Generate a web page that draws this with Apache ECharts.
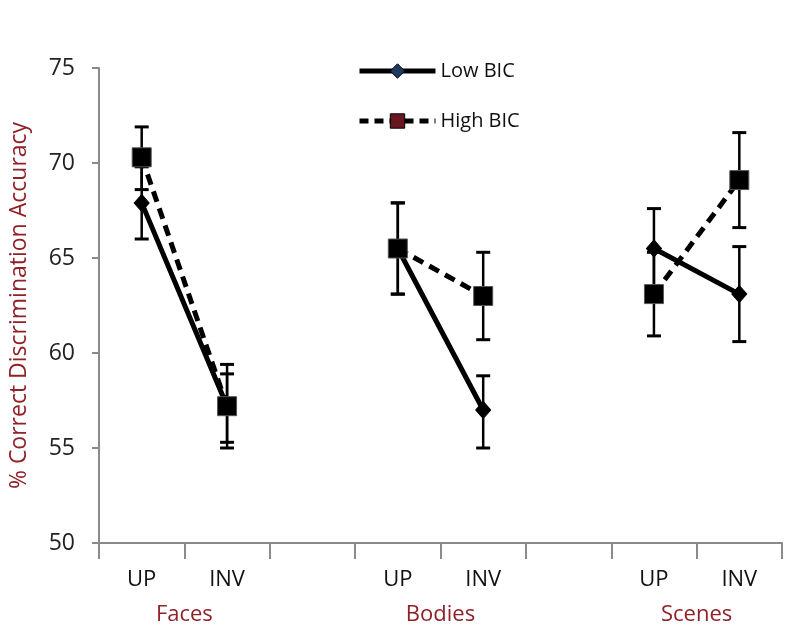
<!DOCTYPE html>
<html>
<head>
<meta charset="utf-8">
<script src="https://cdn.jsdelivr.net/npm/echarts@6/dist/echarts.min.js"></script>
<style>html,body{margin:0;padding:0;background:#fff}#c{width:808px;height:633px}</style>
</head>
<body>
<div id="c"></div>
<script>
const categories = ['UP', 'INV', '', 'UP', 'INV', '', 'UP', 'INV'];
const groupLabels = ['Faces', 'Bodies', 'Scenes'];
const groupPositions = [1, 4, 7];
const yTicks = [50, 55, 60, 65, 70, 75];

const lowBIC   = [67.9, 57.2, null, 65.5, 57.0, null, 65.5, 63.1];
const lowBICHi = [69.8, 59.4, null, 67.9, 58.8, null, 67.6, 65.6];
const lowBICLo = [66.0, 55.0, null, 63.1, 55.0, null, 63.4, 60.6];

const highBIC   = [70.3, 57.2, null, 65.5, 63.0, null, 63.1, 69.1];
const highBICHi = [71.9, 58.9, null, 67.9, 65.3, null, 65.3, 71.6];
const highBICLo = [68.6, 55.3, null, 63.1, 60.7, null, 60.9, 66.6];

const FONT = 'Open Sans';
const RED = '#8f2127';

function errData(vals, lo, hi) {
  const out = [];
  vals.forEach((v, i) => { if (v !== null) out.push([i, lo[i], hi[i]]); });
  return out;
}
function renderErr(params, api) {
  const x = api.value(0);
  const top = api.coord([x, api.value(2)]);
  const bot = api.coord([x, api.value(1)]);
  const w = 7;
  return {
    type: 'group',
    children: [
      { type: 'line', shape: { x1: top[0], y1: top[1], x2: bot[0], y2: bot[1] }, style: { stroke: '#000', lineWidth: 2.5 } },
      { type: 'line', shape: { x1: top[0] - w, y1: top[1], x2: top[0] + w, y2: top[1] }, style: { stroke: '#000', lineWidth: 3 } },
      { type: 'line', shape: { x1: bot[0] - w, y1: bot[1], x2: bot[0] + w, y2: bot[1] }, style: { stroke: '#000', lineWidth: 3 } }
    ]
  };
}

const chart = echarts.init(document.getElementById('c'), null, { renderer: 'canvas' });
chart.setOption({
  animation: false,
  backgroundColor: '#fff',
  grid: { left: 97, right: 26, top: 68, bottom: 90, containLabel: false },
  legend: {
    orient: 'vertical',
    left: 352,
    top: 56,
    itemWidth: 76,
    itemHeight: 18,
    itemGap: 30,
    textStyle: { fontFamily: FONT, fontSize: 20, color: '#111' },
    data: [
      { name: 'Low BIC', itemStyle: { color: '#1f3a60', borderColor: '#000', borderWidth: 1 }, lineStyle: { color: '#000', width: 5 } },
      { name: 'High BIC', itemStyle: { color: '#6a1522', borderColor: '#000', borderWidth: 1 }, lineStyle: { color: '#000', width: 5, type: [9, 6] } }
    ]
  },
  xAxis: [
    {
      type: 'category',
      data: categories,
      boundaryGap: true,
      axisLine: { lineStyle: { color: '#8a8a8a', width: 2 } },
      axisTick: { show: true, length: 16, interval: 0, lineStyle: { color: '#8a8a8a', width: 2 } },
      axisLabel: { interval: 0, margin: 26, fontFamily: FONT, fontSize: 22, color: '#111' },
      splitLine: { show: false }
    },
    {
      type: 'value',
      position: 'bottom',
      min: 0, max: 8, interval: 1,
      axisLine: { show: false },
      axisTick: { show: false },
      splitLine: { show: false },
      axisLabel: {
        margin: 61,
        fontFamily: FONT, fontSize: 22, color: RED,
        formatter: v => { const k = groupPositions.indexOf(v); return k >= 0 ? groupLabels[k] : ''; }
      }
    }
  ],
  yAxis: {
    type: 'value',
    min: yTicks[0], max: yTicks[yTicks.length - 1], interval: 5,
    name: '% Correct Discrimination Accuracy',
    nameLocation: 'middle',
    nameGap: 68,
    nameTextStyle: { fontFamily: FONT, fontSize: 23, color: RED },
    axisLine: { show: true, lineStyle: { color: '#8a8a8a', width: 2 } },
    axisTick: { show: true, length: 7, lineStyle: { color: '#8a8a8a', width: 2 } },
    axisLabel: { margin: 24, fontFamily: FONT, fontSize: 23, color: '#222' },
    splitLine: { show: false }
  },
  series: [
    {
      name: 'Low BIC err', type: 'custom', xAxisIndex: 0, z: 3,
      renderItem: renderErr, data: errData(lowBIC, lowBICLo, lowBICHi), silent: true
    },
    {
      name: 'High BIC err', type: 'custom', xAxisIndex: 0, z: 3,
      renderItem: renderErr, data: errData(highBIC, highBICLo, highBICHi), silent: true
    },
    {
      name: 'Low BIC', type: 'line', xAxisIndex: 0, z: 4,
      data: lowBIC, connectNulls: false,
      symbol: 'diamond', symbolSize: [15, 17], showSymbol: true,
      lineStyle: { color: '#000', width: 5 },
      itemStyle: { color: '#000', borderColor: '#000', borderWidth: 1 }
    },
    {
      name: 'High BIC', type: 'line', xAxisIndex: 0, z: 5,
      data: highBIC, connectNulls: false,
      symbol: 'rect', symbolSize: 19, showSymbol: true,
      lineStyle: { color: '#000', width: 5, type: [11, 7] },
      itemStyle: { color: '#000', borderColor: '#555', borderWidth: 1 }
    }
  ]
});
</script>
</body>
</html>
